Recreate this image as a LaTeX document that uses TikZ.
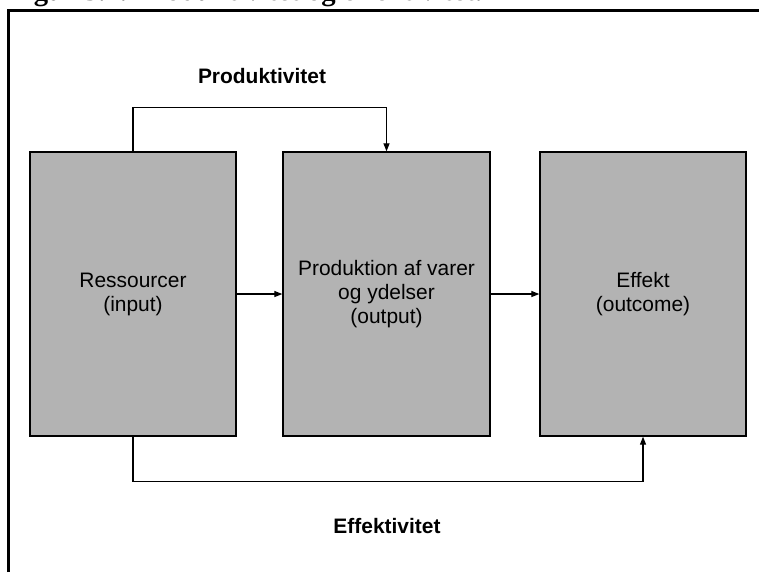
\documentclass[tikz,border=0pt]{standalone}
\usepackage{fontspec}
\setmainfont{Liberation Sans}
\newfontfamily\titlefont{Liberation Serif}
\usetikzlibrary{arrows.meta}
\definecolor{boxgray}{RGB}{179,179,179}
\begin{document}
\begin{tikzpicture}[x=0.75pt,y=-0.75pt,
  stage/.style={draw=black, line width=1pt, fill=boxgray,
    minimum width=154.5pt, minimum height=213pt, inner sep=0pt,
    align=center, font=\fontsize{15.7}{18}\selectfont},
  link/.style={line width=0.9pt, -{Triangle[length=6pt,width=4.5pt]}},
  flowlabel/.style={font=\fontsize{15.7}{18}\selectfont\bfseries,
    anchor=base, inner sep=0pt},
  frameline/.style={line width=2.3pt, line join=miter}]
\useasboundingbox (0,0) rectangle (759,572);

% caption, cut by the top edge of the page
\node[anchor=base west, inner sep=0pt,
  font=\titlefont\bfseries\fontsize{21.5}{24}\selectfont] (title)
  at (8,0.5) {Figur 3.1. Produktivitet og effektivitet.};

% outer frame (left and top sides)
\coordinate (fbl) at (8.5,572);
\coordinate (ftl) at (8.5,10.5);
\coordinate (ftr) at (759,10.5);
\draw[frameline] (fbl) -- (ftl) -- (ftr);

% the three stages
\node[stage] (res)  at (133,294)   {Ressourcer\\(input)};
\node[stage, minimum width=155.25pt] (prod) at (386.5,294) {Produktion af varer\\og ydelser\\(output)};
\node[stage] (eff)  at (643,294)   {Effekt\\(outcome)};

% flow between stages
\draw[link] (res) -- (prod);
\draw[link] (prod) -- (eff);

% productivity: resources -> output
\draw[link] (res.north) -- ++(0,-44) -| (prod.north);
% effectiveness: resources -> outcome
\draw[link] (res.south) -- ++(0,45) -| (eff.south);

\node[flowlabel] (plabel) at (262,83)  {Produktivitet};
\node[flowlabel] (elabel) at (387,533) {Effektivitet};
\end{tikzpicture}
\end{document}
